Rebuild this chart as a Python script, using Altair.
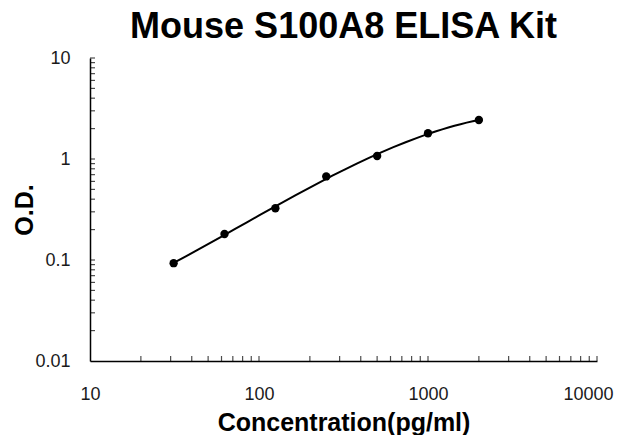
import altair as alt
import pandas as pd

# data
conc = [31.25, 62.5, 125, 250, 500, 1000, 2000]
od = [0.093, 0.181, 0.325, 0.672, 1.07, 1.80, 2.43]

x_major = [10, 100, 1000, 10000]
y_major = [0.01, 0.1, 1, 10]
x_ticks = [20, 30, 40, 50, 60, 70, 80, 90, 100,
           200, 300, 400, 500, 600, 700, 800, 900, 1000,
           2000, 3000, 4000, 5000, 6000, 7000, 8000, 9000, 10000]
y_ticks = [0.02, 0.03, 0.04, 0.05, 0.06, 0.07, 0.08, 0.09, 0.1,
           0.2, 0.3, 0.4, 0.5, 0.6, 0.7, 0.8, 0.9, 1,
           2, 3, 4, 5, 6, 7, 8, 9, 10]

pts = pd.DataFrame({"conc": conc, "od": od})
xt = pd.DataFrame({"v": x_ticks})
yt = pd.DataFrame({"v": y_ticks})

FONT = "Liberation Sans"
xscale = alt.Scale(type="log", domain=[10, 10000], nice=False)
yscale = alt.Scale(type="log", domain=[0.01, 10], nice=False)

xaxis = alt.Axis(values=x_major, labelExpr="'' + datum.value", ticks=False, tickSize=0,
                 grid=False, domainColor="black", domainWidth=1.5,
                 labelFont=FONT, labelFontSize=18, labelColor="#1a1a1a", labelPadding=24,
                 labelFlush=False, labelOverlap=False,
                 labelOffset={"condition": {"test": "datum.value === 10000", "value": -9},
                              "value": 0},
                 title="Concentration(pg/ml)", titleFont=FONT, titleFontSize=25,
                 titleFontWeight="bold", titleColor="black",
                 titleBaseline="alphabetic", titleY=69)
yaxis = alt.Axis(values=y_major, labelExpr="'' + datum.value", ticks=False, tickSize=0,
                 grid=False, domainColor="black", domainWidth=1.5,
                 labelFont=FONT, labelFontSize=18, labelColor="#1a1a1a", labelPadding=20,
                 labelFlush=False, labelOverlap=False,
                 title="O.D.", titleFont=FONT, titleFontSize=25,
                 titleFontWeight="bold", titleColor="black",
                 titleBaseline="alphabetic", titleX=-58, titleY=151.5, titleAngle=-90,
                 titleAlign="center")

base = alt.Chart(pts)

curve = base.transform_calculate(
    lx="log(datum.conc)/LN10", ly="log(datum.od)/LN10"
).transform_regression(
    "lx", "ly", method="poly", order=3, extent=[1.49485, 3.30103]
).transform_calculate(
    cx="pow(10, datum.lx)", cy="pow(10, datum.ly)"
).mark_line(color="black", strokeWidth=2).encode(
    x=alt.X("cx:Q", scale=xscale, axis=xaxis),
    y=alt.Y("cy:Q", scale=yscale, axis=yaxis),
)

dots = base.mark_circle(color="black", opacity=1, size=70).encode(
    x=alt.X("conc:Q", scale=xscale, axis=xaxis),
    y=alt.Y("od:Q", scale=yscale, axis=yaxis),
)

xticks = alt.Chart(xt).mark_tick(orient="vertical", size=5, thickness=1.2,
                                 color="black", yOffset=-2.5).encode(
    x=alt.X("v:Q", scale=xscale, axis=xaxis),
    y=alt.YDatum(0.01, scale=yscale, axis=yaxis),
)
yticks = alt.Chart(yt).mark_tick(orient="horizontal", size=5, thickness=1.2,
                                 color="black", xOffset=2.5).encode(
    y=alt.Y("v:Q", scale=yscale, axis=yaxis),
    x=alt.XDatum(10, scale=xscale, axis=xaxis),
)

chart = alt.layer(curve, dots, xticks, yticks).properties(
    width=507, height=303,
    title=alt.TitleParams("Mouse S100A8 ELISA Kit", font=FONT, fontSize=36,
                          fontWeight="bold", color="black", anchor="middle", offset=3),
    autosize=alt.AutoSizeParams(type="none"),
    padding={"left": 82, "top": 50, "right": 19, "bottom": 74},
).configure_view(stroke=None)

chart.save("out.html", embed_options={"renderer": "svg", "actions": False})
